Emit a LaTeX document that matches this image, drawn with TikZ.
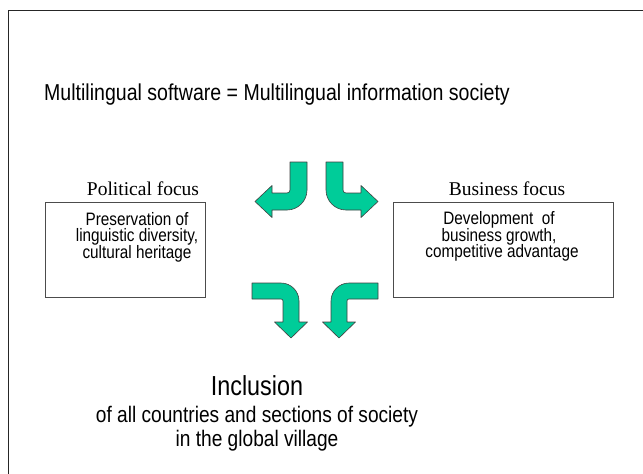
\documentclass[tikz,border=0pt]{standalone}
\usepackage{fontspec}
\setmainfont{Liberation Sans}[FakeStretch=0.85]
\newfontfamily\serifface{Liberation Serif}
\definecolor{arrowgreen}{RGB}{0,204,153}
\begin{document}
\begin{tikzpicture}[x=1pt,y=-1pt,
  bent/.style={fill=arrowgreen,draw=black!75,line width=0.6pt,line join=round},
  focusbox/.style={draw=black!70,line width=0.8pt,inner sep=0pt},
  txt/.style={anchor=base,inner sep=0pt},
  bigtxt/.style={txt,font=\fontsize{23}{27}\selectfont},
  boxtxt/.style={txt,font=\fontsize{18}{21}\selectfont},
  labtxt/.style={txt,font=\serifface\fontsize{19.5}{23}\selectfont}]
\useasboundingbox (0,0) rectangle (643,474);
\fill[white] (0,0) rectangle (643,474);
% slide frame (cut off at right and bottom)
\draw[line width=1.5pt,black!85] (8.5,474) -- (8.5,10.5) -- (643,10.5);

% title
\node[bigtxt] (title) at (277,100) {Multilingual software = Multilingual information society};

% focus labels
\node[labtxt] (polfocus) at (143,195) {Political focus};
\node[labtxt] (busfocus) at (507,195) {Business focus};

% boxes
\node[focusbox,minimum width=160pt,minimum height=95pt] (polbox) at (125,249.5) {};
\node[focusbox,minimum width=220pt,minimum height=95pt] (busbox) at (503,249.5) {};

\node[boxtxt] (pol1) at (137,225) {Preservation of};
\node[boxtxt] (pol2) at (137,241.5) {linguistic diversity,};
\node[boxtxt] (pol3) at (137,258) {cultural heritage};

\node[boxtxt] (bus1) at (499,224.5) {Development~ of};
\node[boxtxt] (bus2) at (499,241) {business growth,};
\node[boxtxt] (bus3) at (502,257.5) {competitive advantage};

% bent arrows
\draw[bent] (307,162) -- (307,190) .. controls (307,201) and (298,210) .. (287,210)
  -- (272,210) -- (272,217.5) -- (255,201.5) -- (272,185.5) -- (272,193) -- (287,193)
  .. controls (288.7,193) and (290,191.7) .. (290,190) -- (290,162) -- cycle;
\draw[bent] (326,162) -- (326,190) .. controls (326,201) and (335,210) .. (346,210)
  -- (361,210) -- (361,217.5) -- (378,201.5) -- (361,185.5) -- (361,193) -- (346,193)
  .. controls (344.3,193) and (343,191.7) .. (343,190) -- (343,162) -- cycle;
\draw[bent] (252,283) -- (281,283) .. controls (290.9,283) and (299,291.1) .. (299,301)
  -- (299,322) -- (307.5,322) -- (291,338) -- (274.5,322) -- (283,322) -- (283,301)
  .. controls (283,299.9) and (282.1,299) .. (281,299) -- (252,299) -- cycle;
\draw[bent] (378,283) -- (349,283) .. controls (339.1,283) and (331,291.1) .. (331,301)
  -- (331,322) -- (322.5,322) -- (339,338) -- (355.5,322) -- (347,322) -- (347,301)
  .. controls (347,299.9) and (347.9,299) .. (349,299) -- (378,299) -- cycle;

% bottom text
\node[txt,font=\fontsize{27.5}{32}\selectfont] (incl) at (257,395) {Inclusion};
\node[bigtxt,font=\fontsize{22.5}{27}\selectfont] (incl2) at (257,422) {of all countries and sections of society};
\node[bigtxt,font=\fontsize{22.5}{27}\selectfont] (incl3) at (257,446) {in the global village};
\end{tikzpicture}
\end{document}
